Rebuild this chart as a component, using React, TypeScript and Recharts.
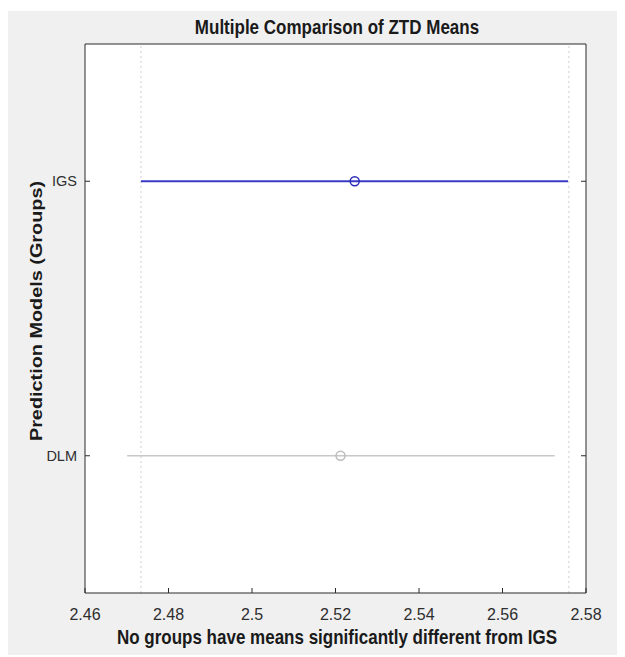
import React from 'react'
import {
  ScatterChart,
  Scatter,
  XAxis,
  YAxis,
  CartesianGrid,
  ReferenceLine,
} from 'recharts'

// groups from bottom (y = 1) to top (y = 2)
const groups = ['DLM', 'IGS']
const groupMeans = [2.5212, 2.5246]
const lowerLimits = [2.4701, 2.4734]
const upperLimits = [2.5725, 2.5757]
const groupColors = ['#c8c8c8', '#3a3ac6']
const markerColors = ['#bdbdbd', '#2a2ab8']
const lineWidths = [1.5, 2]

// dotted limits of the comparison interval of IGS
const refLimits = [2.4734, 2.5759]
const xTicks = [2.46, 2.48, 2.5, 2.52, 2.54, 2.56, 2.58]
const yTicks = [1, 2]

const W = 609
const H = 644
const axisColor = '#2b2b2b'
const textColor = '#2e2e2e'
const font = '"Liberation Sans", Arial, sans-serif'

const fmtX = (v: number) => String(Number(v.toFixed(2)))

function BottomTick(props: any) {
  const { x, y, payload } = props
  return (
    <g>
      <line x1={x} y1={y} x2={x} y2={y - 5} stroke={axisColor} />
      <text
        x={x}
        y={y + 27}
        textAnchor="middle"
        fontSize={16}
        fill={textColor}
        fontFamily={font}
      >
        {fmtX(payload.value)}
      </text>
    </g>
  )
}

function TopTick(props: any) {
  const { x, y } = props
  return <line x1={x} y1={y} x2={x} y2={y + 5} stroke={axisColor} />
}

function LeftTick(props: any) {
  const { x, y, payload } = props
  return (
    <g>
      <line x1={x} y1={y} x2={x + 5} y2={y} stroke={axisColor} />
      <text x={x - 8} y={y + 5} textAnchor="end" fontSize={14.5} fill={textColor} fontFamily={font}>
        {groups[payload.value - 1]}
      </text>
    </g>
  )
}

function RightTick(props: any) {
  const { x, y } = props
  return <line x1={x} y1={y} x2={x - 5} y2={y} stroke={axisColor} />
}

const NoShape = () => <g />

const titleStyle: React.CSSProperties = {
  position: 'absolute',
  left: 0,
  width: 658,
  textAlign: 'center',
  fontFamily: font,
  fontWeight: 'bold',
  fontSize: 17,
  lineHeight: '20px',
  color: '#1a1a1a',
  transform: 'scaleY(1.15)',
}

export default function App() {
  return (
    <div style={{ paddingTop: 3 }}>
      <div style={{ position: 'relative', width: W, height: H, background: '#f0f0f0' }}>
        <div style={{ ...titleStyle, top: 7 }}>Multiple Comparison of ZTD Means</div>
        <div style={{ ...titleStyle, top: 617 }}>
          No groups have means significantly different from IGS
        </div>
        <div
          style={{
            position: 'absolute',
            left: 29 - 200,
            top: 300 - 10,
            width: 400,
            textAlign: 'center',
            transform: 'rotate(-90deg) scaleX(1.24)',
            fontFamily: font,
            fontWeight: 'bold',
            fontSize: 16,
            lineHeight: '20px',
            color: '#1a1a1a',
          }}
        >
          Prediction Models (Groups)
        </div>

        <ScatterChart
          width={W}
          height={H}
          margin={{ top: 32, right: 30, bottom: 61, left: 76 }}
          style={{ position: 'absolute', left: 0, top: 0 }}
        >
          <CartesianGrid horizontal={false} vertical={false} fill="#ffffff" />
          <XAxis
            type="number"
            dataKey="x"
            domain={[2.46, 2.58]}
            ticks={xTicks}
            allowDataOverflow
            height={1}
            tickSize={0}
            tickMargin={0}
            tickLine={false}
            axisLine={{ stroke: axisColor }}
            tick={<BottomTick />}
            interval={0}
          />
          <XAxis
            xAxisId="top"
            orientation="top"
            type="number"
            domain={[2.46, 2.58]}
            ticks={xTicks}
            allowDataOverflow
            height={1}
            tickSize={0}
            tickMargin={0}
            tickLine={false}
            axisLine={{ stroke: axisColor }}
            tick={<TopTick />}
            interval={0}
          />
          <YAxis
            type="number"
            dataKey="y"
            domain={[0.5, 2.5]}
            ticks={yTicks}
            allowDataOverflow
            width={1}
            tickSize={0}
            tickMargin={0}
            tickLine={false}
            axisLine={{ stroke: axisColor }}
            tick={<LeftTick />}
            interval={0}
          />
          <YAxis
            yAxisId="right"
            orientation="right"
            type="number"
            domain={[0.5, 2.5]}
            ticks={yTicks}
            allowDataOverflow
            width={1}
            tickSize={0}
            tickMargin={0}
            tickLine={false}
            axisLine={{ stroke: axisColor }}
            tick={<RightTick />}
            interval={0}
          />

          {refLimits.map((v) => (
            <ReferenceLine
              key={`ref-${v}`}
              x={v}
              stroke="#cfcfcf"
              strokeDasharray="2 3"
              strokeWidth={1}
            />
          ))}

          {groups.map((g, i) => (
            <Scatter
              key={`int-${g}`}
              data={[
                { x: lowerLimits[i], y: i + 1 },
                { x: upperLimits[i], y: i + 1 },
              ]}
              line={{ stroke: groupColors[i], strokeWidth: lineWidths[i] }}
              lineType="joint"
              shape={<NoShape />}
              isAnimationActive={false}
            />
          ))}
          {groups.map((g, i) => (
            <Scatter
              key={`mean-${g}`}
              data={[{ x: groupMeans[i], y: i + 1 }]}
              shape={(p: any) => (
                <circle
                  cx={p.cx}
                  cy={p.cy}
                  r={4.5}
                  fill="none"
                  stroke={markerColors[i]}
                  strokeWidth={1.5}
                />
              )}
              isAnimationActive={false}
            />
          ))}
        </ScatterChart>
      </div>
    </div>
  )
}
